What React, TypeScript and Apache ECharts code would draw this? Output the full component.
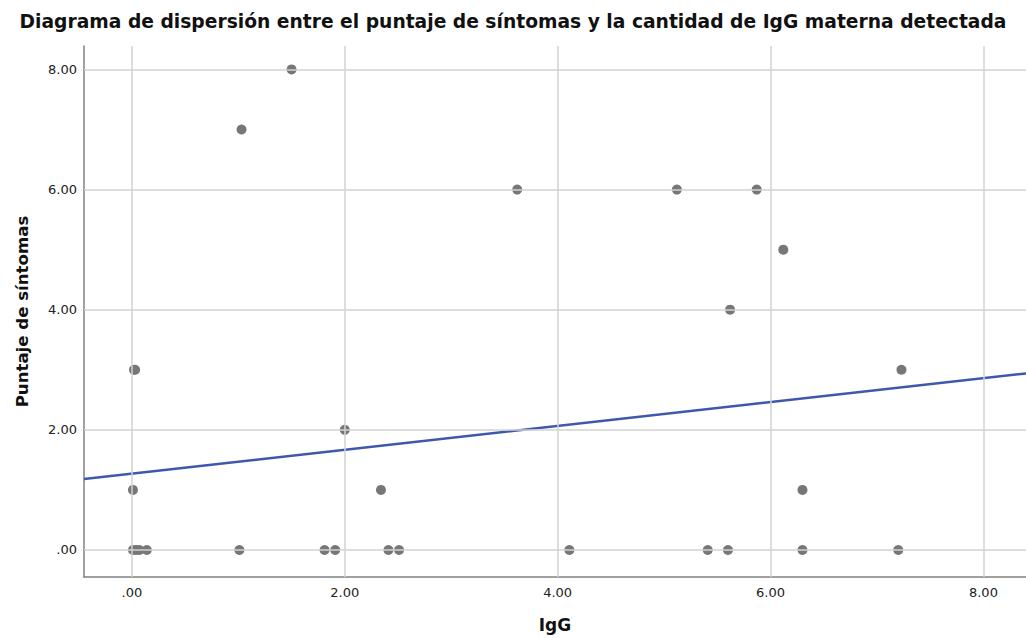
import React, { useEffect, useRef } from "react";
import * as echarts from "echarts";

const titleText = "Diagrama de dispersión entre el puntaje de síntomas y la cantidad de IgG materna detectada";
const xName = "IgG";
const yName = "Puntaje de síntomas";

const igg = [
  0.01, 0.04, 0.07, 0.14, 1.01, 1.81, 1.91, 2.41, 2.51, 4.11, 5.41, 5.6, 6.3, 7.2,
  0.01, 2.34, 6.3,
  2.0,
  0.02, 0.03, 7.23,
  5.62,
  6.12,
  3.62, 5.12, 5.87,
  1.03,
  1.5,
];
const puntaje = [
  0, 0, 0, 0, 0, 0, 0, 0, 0, 0, 0, 0, 0, 0,
  1, 1, 1,
  2,
  3, 3, 3,
  4,
  5,
  6, 6, 6,
  7,
  8,
];

const fitX = [-0.45, 8.4];
const fitY = [1.18, 2.94];

const xTicks = [0, 2, 4, 6, 8];
const yTicks = [0, 2, 4, 6, 8];

const fmt = (v: number) => (v === 0 ? ".00" : v.toFixed(2));

export default function App() {
  const ref = useRef<HTMLDivElement>(null);
  useEffect(() => {
    if (!ref.current) return;
    const chart = echarts.init(ref.current, undefined, { renderer: "svg" });
    const font = "DejaVu Sans";
    const gridColor = "#d2d2d2";
    chart.setOption({
      animation: false,
      backgroundColor: "#ffffff",
      title: {
        text: titleText,
        left: "center",
        top: 7,
        textStyle: { fontFamily: font, fontSize: 18.7, fontWeight: "bold", color: "#111" },
      },
      grid: { left: 84, right: 0, top: 46, bottom: 61 },
      xAxis: {
        type: "value",
        min: fitX[0],
        max: fitX[1],
        name: xName,
        nameLocation: "middle",
        nameGap: 39,
        nameTextStyle: { fontFamily: font, fontSize: 17, fontWeight: "bold", color: "#111" },
        axisLine: { show: true, onZero: false, lineStyle: { color: "#808080", width: 1.5 } },
        axisTick: { show: false, customValues: xTicks },
        axisLabel: {
          customValues: xTicks,
          formatter: fmt,
          fontFamily: font,
          fontSize: 13,
          color: "#222",
          margin: 9,
        },
        splitLine: { show: false },
      },
      yAxis: {
        type: "value",
        min: -0.45,
        max: 8.39,
        name: yName,
        nameLocation: "middle",
        nameGap: 53,
        nameTextStyle: { fontFamily: font, fontSize: 16.6, fontWeight: "bold", color: "#111" },
        axisLine: { show: true, onZero: false, lineStyle: { color: "#808080", width: 1.5 } },
        axisTick: { show: false, customValues: yTicks },
        axisLabel: {
          customValues: yTicks,
          formatter: fmt,
          fontFamily: font,
          fontSize: 13,
          color: "#222",
          margin: 7,
        },
        splitLine: { show: false },
      },
      series: [
        {
          type: "line",
          data: [],
          silent: true,
          markLine: {
            silent: true,
            symbol: "none",
            label: { show: false },
            lineStyle: { color: gridColor, width: 1.5, type: "solid" },
            data: [
              ...xTicks.map((v) => ({ xAxis: v })),
              ...yTicks.map((v) => ({ yAxis: v })),
            ],
          },
        },
        {
          type: "scatter",
          data: igg.map((x, i) => [x, puntaje[i]]),
          symbol: "circle",
          symbolSize: 10,
          itemStyle: { color: "#777777", opacity: 1 },
          z: 3,
        },
        {
          type: "line",
          data: fitX.map((x, i) => [x, fitY[i]]),
          showSymbol: false,
          symbol: "none",
          lineStyle: { color: "#3f57ad", width: 2.5 },
          z: 4,
        },
      ],
    });
    return () => chart.dispose();
  }, []);
  return (
    <div
      ref={ref}
      style={{ position: "fixed", left: 0, top: 0, width: 1026, height: 638 }}
    />
  );
}
